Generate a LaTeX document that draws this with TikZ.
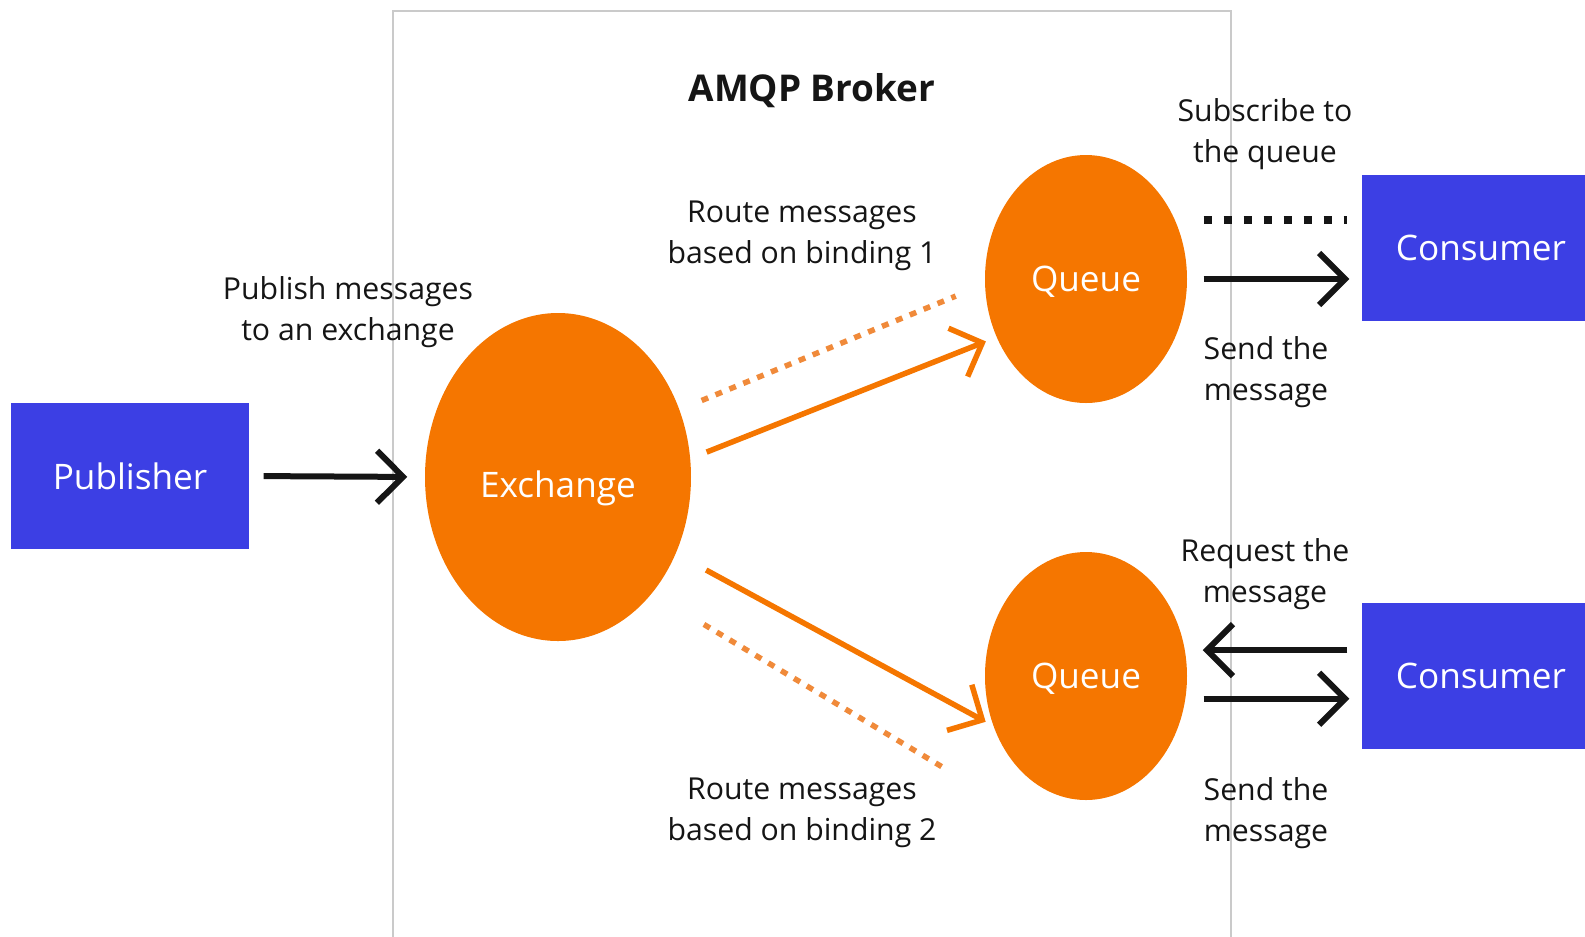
\documentclass[tikz,border=0pt]{standalone}
\usepackage{fontspec}
\setmainfont{Open Sans}
\usetikzlibrary{arrows.meta,calc,positioning,shapes.geometric}
\definecolor{ink}{HTML}{151515}
\definecolor{brokerblue}{HTML}{3C3FE4}
\definecolor{amqporange}{HTML}{F57600}
\definecolor{bindorange}{HTML}{F08A3A}
\definecolor{framegray}{HTML}{CACACA}
\tikzset{
  brokertitle/.style={font=\bfseries\fontsize{10.5}{12}\selectfont, text=ink},
  clientbox/.style={
    draw=none,
    fill=brokerblue,
    text=white,
    minimum width=23.8mm,
    minimum height=14.6mm,
    font=\fontsize{10}{12}\selectfont
  },
  amqpnode/.style={ellipse, fill=amqporange, text=white, inner sep=0pt,
    font=\fontsize{10}{12}\selectfont},
  exchangenode/.style={amqpnode, minimum width=26.6mm, minimum height=32.8mm,
    text height=14pt},
  queuenode/.style={amqpnode, minimum width=20.2mm, minimum height=24.8mm,
    text height=9pt},
  msgarrow/.style={-{Straight Barb[length=2.6mm,width=5.2mm]}, line width=0.6mm, draw=ink},
  routearrow/.style={msgarrow, line width=0.55mm, draw=amqporange},
  bindline/.style={draw=bindorange, line width=0.55mm, dash pattern=on 0.7mm off 0.8mm},
  subline/.style={draw=ink, line width=0.8mm, dash pattern=on 0.8mm off 1.2mm},
  ann/.style={font=\fontsize{8.6}{11.8}\selectfont, text=ink, align=center},
  frameline/.style={draw=framegray, line width=0.2mm}
}

\begin{document}
\begin{tikzpicture}[x=0.1mm, y=-0.1mm]
  \useasboundingbox (0,0) rectangle (1585,936);
  \draw[frameline] (393,960) |- (1231,11) -- (1231,960);
  \node[brokertitle] (title) at (812,91) {AMQP Broker};

  \node[clientbox] (pub) at (130,476) {Publisher};
  \node[exchangenode] (ex) at (558,477) {Exchange};
  \node[queuenode] (q1) at (1086,279) {Queue};
  \node[queuenode] (q2) at (1086,676) {Queue};
  \node[clientbox] (c1) at (1481,247.5) {Consumer};
  \node[clientbox] (c2) at (1481,675.5) {Consumer};

  \draw[msgarrow, shorten <=1.4mm, shorten >=1.7mm] (pub.east) -- (ex.west);
  \draw[routearrow, shorten <=1.7mm, shorten >=1.1mm] (ex.8) -- (q1.213);
  \draw[bindline, shorten <=2.35mm, shorten >=3.1mm] (ex.29) -- (q1.183);
  \draw[routearrow, shorten <=3.4mm, shorten >=0.8mm] (ex.327) -- (q2.208);
  \coordinate (bind2tail) at (944,768);
  \draw[bindline, shorten <=6mm] (ex.309) -- (bind2tail);

  \draw[subline, shorten <=1.6mm, shorten >=1.4mm] (q1.east |- c1.167) -- (c1.167);
  \draw[msgarrow, shorten <=1.6mm, shorten >=1.2mm] (q1.east) -- (q1.east -| c1.west);
  \draw[msgarrow, shorten <=1.4mm, shorten >=1.5mm] (c2.168) -- (q2.east |- c2.168);
  \draw[msgarrow, shorten <=1.6mm, shorten >=1.2mm] (q2.east |- c2.191) -- (c2.191);

  \node[ann] (pubnote) at (348,312) {Publish messages\\to an exchange};
  \node[ann] (bind1note) at (802,236) {Route messages\\based on binding 1};
  \node[ann] (bind2note) at (802,813) {Route messages\\based on binding 2};
  \node[ann] (subnote) at (1265,134) {Subscribe to\\the queue};
  \node[ann] (send1note) at (1266,372) {Send the\\message};
  \node[ann] (reqnote) at (1265,574) {Request the\\message};
  \node[ann] (send2note) at (1266,813) {Send the\\message};
\end{tikzpicture}
\end{document}
